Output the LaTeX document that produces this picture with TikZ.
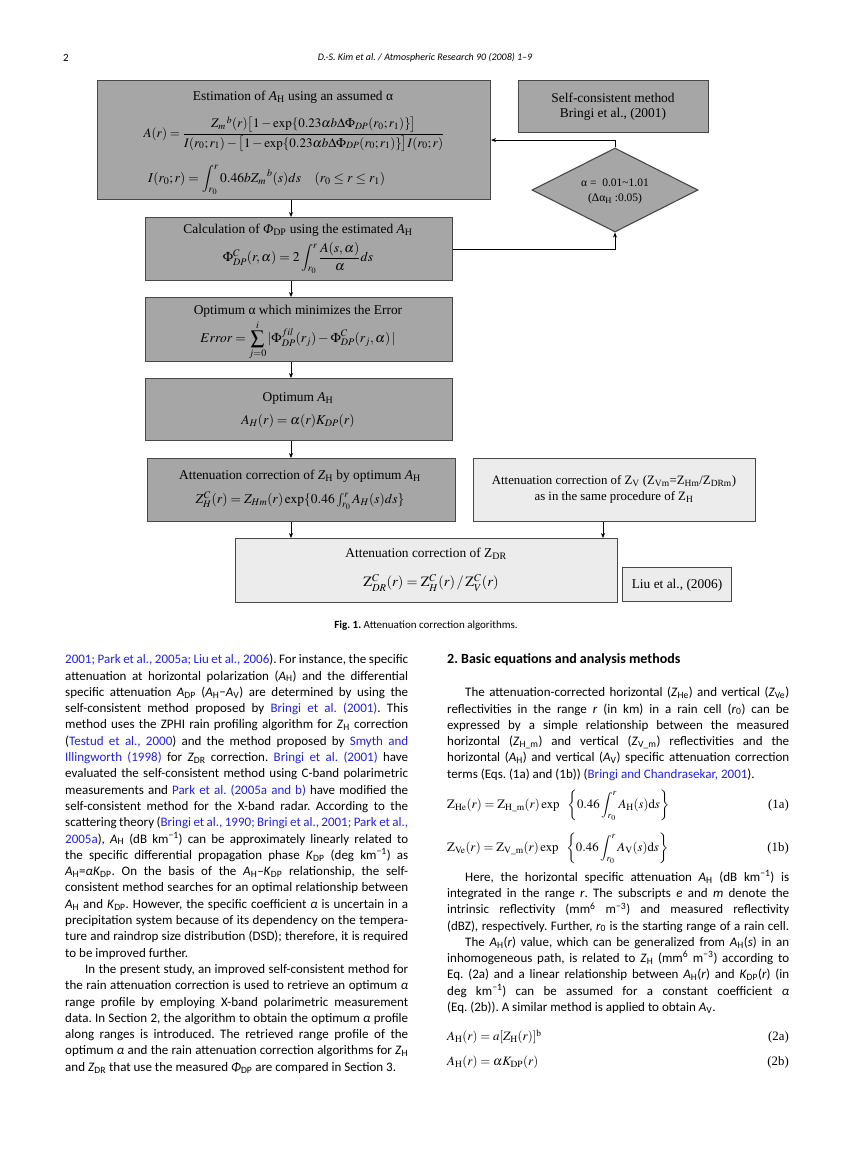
\documentclass[tikz,border=0pt]{standalone}
\usepackage{amsmath}
\usepackage{mathptmx}
\usepackage{fontspec}
\setmainfont{Liberation Serif}
\newfontfamily\bodyfont{Carlito}
\usetikzlibrary{shapes.geometric,arrows.meta,calc}
\definecolor{boxdark}{RGB}{166,166,166}
\definecolor{boxlight}{RGB}{236,236,236}
\definecolor{boxline}{RGB}{72,72,72}
\definecolor{linkblue}{RGB}{35,35,225}
\frenchspacing
\newcommand\lk[1]{\textcolor{linkblue}{#1}}
\newcommand\Jl[1]{\hbox to\hsize{#1}}
\newcommand\Ll[1]{\hbox{#1}}
\newcommand\sbs[1]{\textsubscript{#1}}
\newcommand\sps[1]{\textsuperscript{#1}}
\newcommand\AH{\textit{A}\sbs{H}}
\newcommand\AV{\textit{A}\sbs{V}}
\newcommand\ADP{\textit{A}\sbs{DP}}
\newcommand\ZH{\textit{Z}\sbs{H}}
\newcommand\ZDR{\textit{Z}\sbs{DR}}
\newcommand\KDP{\textit{K}\sbs{DP}}
\newcommand\PDP{\textit{Φ}\sbs{DP}}
\newcommand\bt{\fontsize{13.4}{15}\selectfont}
\newcommand\bm{\fontsize{13.5}{16}\selectfont}
\newcommand\bodysz{\bodyfont\fontsize{13}{16.3}\selectfont\frenchspacing}
\newcommand\eqsz{\fontsize{12.8}{15}\selectfont}
\tikzset{
  darkbox/.style={draw=boxline, fill=boxdark, line width=1.1pt, inner sep=0pt, anchor=north west},
  lightbox/.style={draw=boxline, fill=boxlight, line width=1.1pt, inner sep=0pt, anchor=north west},
  txt/.style={inner sep=0pt, font=\bt},
  arr/.style={-{Stealth[length=5pt,width=4pt]}, line width=0.7pt, black},
  col/.style={anchor=north west, inner sep=0pt},
  eqn/.style={anchor=west, inner sep=0pt, font=\eqsz},
  eqno/.style={anchor=east, inner sep=0pt, font=\eqsz}
}
\begin{document}
\begin{tikzpicture}[x=1pt,y=-1pt]
\fill[white] (0,0) rectangle (846,1154);
\useasboundingbox (0,0) rectangle (846,1154);

% running header
\node[anchor=west, inner sep=0pt] (pgnum) at (63,58) {\bodyfont\fontsize{11}{13}\selectfont 2};
\node[inner sep=0pt] (runhead) at (425,58) {\bodyfont\fontsize{10}{13}\selectfont\itshape D.-S. Kim et al. / Atmospheric Research 90 (2008) 1–9};

% ---------------- diagram ----------------
\node[darkbox, minimum width=393pt, minimum height=119pt] (est) at (97,80) {};
\node[darkbox, minimum width=190pt, minimum height=52pt] (sc) at (518,80) {};
\node[diamond, draw=boxline, fill=boxdark, line width=1.1pt, inner sep=0pt, minimum width=166pt, minimum height=84pt] (dia) at (615,190) {};
\node[darkbox, minimum width=307pt, minimum height=63pt] (calc) at (145,217) {};
\node[darkbox, minimum width=307pt, minimum height=64pt] (opta) at (145,297) {};
\node[darkbox, minimum width=307pt, minimum height=62pt] (optah) at (145,378) {};
\node[darkbox, minimum width=308pt, minimum height=63pt] (corh) at (147,458) {};
\node[lightbox, minimum width=282pt, minimum height=63pt] (corv) at (473,458) {};
\node[lightbox, minimum width=382pt, minimum height=64pt] (cordr) at (235,538) {};
\node[lightbox, minimum width=109pt, minimum height=34pt] (liu) at (622,567) {};

% texts in boxes
\node[txt] (estT) at (293,97) {Estimation of \textit{A}\sbs{H} using an assumed α};
\node[txt, font=\fontsize{13}{16}\selectfont] (estF) at (294,134) {$A(r)=\dfrac{{Z_m}^{\,b}(r)\bigl[1-\exp\{0.23\alpha b\Delta\Phi_{DP}(r_0;r_1)\}\bigr]}{I(r_0;r_1)-\bigl[1-\exp\{0.23\alpha b\Delta\Phi_{DP}(r_0;r_1)\}\bigr]I(r_0;r)}$};
\node[txt, font=\bm, anchor=west] (estI) at (148,180) {$I(r_0;r)=\displaystyle\int_{r_0}^{r}0.46b{Z_m}^{\,b}(s)ds\quad(r_0\le r\le r_1)$};

\node[txt] (scT1) at (613,98) {Self-consistent method};
\node[txt] (scT2) at (613,114) {Bringi et al., (2001)};

\node[txt, font=\fontsize{11.5}{13}\selectfont] (diaT1) at (615,183) {α =\ \ 0.01\textasciitilde 1.01};
\node[txt, font=\fontsize{11.5}{13}\selectfont] (diaT2) at (615,199) {(Δα\sbs{H} :0.05)};

\node[txt] (calcT) at (298,230) {Calculation of \PDP{} using the estimated \textit{A}\sbs{H}};
\node[txt, font=\bm] (calcF) at (298,258) {$\Phi^{C}_{DP}(r,\alpha)=2\displaystyle\int_{r_0}^{r}\frac{A(s,\alpha)}{\alpha}ds$};

\node[txt] (optaT) at (298,311) {Optimum α which minimizes the Error};
\node[txt, font=\bm] (optaF) at (298,340) {$Error=\displaystyle\sum_{j=0}^{i}|\Phi^{fil}_{DP}(r_j)-\Phi^{C}_{DP}(r_j,\alpha)\,|$};

\node[txt] (optahT) at (298,398) {Optimum \textit{A}\sbs{H}};
\node[txt, font=\bm] (optahF) at (298,421) {$A_H(r)=\alpha(r)K_{DP}(r)$};

\node[txt] (corhT) at (300,476) {Attenuation correction of \textit{Z}\sbs{H} by optimum \textit{A}\sbs{H}};
\node[txt, font=\bm] (corhF) at (300,501) {$Z^{C}_{H}(r)=Z_{Hm}(r)\exp\{0.46\int_{r_0}^{r}A_H(s)ds\}$};

\node[txt, font=\fontsize{12.8}{14}\selectfont] (corvT1) at (614,481) {Attenuation correction of Z\sbs{V} (Z\sbs{Vm}=Z\sbs{Hm}/Z\sbs{DRm})};
\node[txt, font=\fontsize{12.8}{14}\selectfont] (corvT2) at (614,497) {as in the same procedure of Z\sbs{H}};

\node[txt] (cordrT) at (426,554) {Attenuation correction of Z\sbs{DR}};
\node[txt, font=\fontsize{14.2}{16}\selectfont] (cordrF) at (431,583) {$\mathrm{Z}^{C}_{DR}(r)=\mathrm{Z}^{C}_{H}(r)\,/\,\mathrm{Z}^{C}_{V}(r)$};

\node[txt] (liuT) at (677,585) {Liu et al., (2006)};

% connectors
\coordinate (ax) at (291,0);
\coordinate (bx) at (603,0);
\draw[arr] (est.south -| ax) -- (calc.north -| ax);
\draw[arr] (calc.south -| ax) -- (opta.north -| ax);
\draw[arr] (opta.south -| ax) -- (optah.north -| ax);
\draw[arr] (optah.south -| ax) -- (corh.north -| ax);
\draw[arr] (corh.south -| ax) -- (cordr.north -| ax);
\draw[arr] (corv.south -| bx) -- (cordr.north -| bx);
\draw[arr] (calc.east) -| (dia.south);
\draw[arr] (dia.north) |- (est.east);

% caption
\node[inner sep=0pt] (cap) at (426,626) {\bodyfont\fontsize{11}{12}\selectfont\textbf{Fig. 1.} Attenuation correction algorithms.};

% ---------------- left column ----------------
\node[col] (leftcol) at (65,654) {\vbox{\hsize=343pt\bodysz
\Jl{\lk{2001; Park et al., 2005a; Liu et al., 2006}). For instance, the specific}
\Jl{attenuation at horizontal polarization (\AH) and the differential}
\Jl{specific attenuation \ADP{} (\AH−\AV) are determined by using the}
\Jl{self-consistent method proposed by \lk{Bringi et al. (2001)}. This}
\Jl{method uses the ZPHI rain profiling algorithm for \ZH{} correction}
\Jl{(\lk{Testud et al., 2000}) and the method proposed by \lk{Smyth and}}
\Jl{\lk{Illingworth (1998)} for \ZDR{} correction. \lk{Bringi et al. (2001)} have}
\Jl{evaluated the self-consistent method using C-band polarimetric}
\Jl{measurements and \lk{Park et al. (2005a and b)} have modified the}
\Jl{self-consistent method for the X-band radar. According to the}
\Jl{scattering theory (\lk{Bringi et al., 1990; Bringi et al., 2001; Park et al.,}}
\Jl{\lk{2005a}), \AH{} (dB km\sps{−1}) can be approximately linearly related to}
\Jl{the specific differential propagation phase \KDP{} (deg km\sps{−1}) as}
\Jl{\AH=\textit{α}\KDP. On the basis of the \AH–\KDP{} relationship, the self-}
\Jl{consistent method searches for an optimal relationship between}
\Jl{\AH{} and \KDP. However, the specific coefficient \textit{α} is uncertain in a}
\Jl{precipitation system because of its dependency on the tempera-}
\Jl{ture and raindrop size distribution (DSD); therefore, it is required}
\Ll{to be improved further.}
\Jl{\hspace*{20pt}In the present study, an improved self-consistent method for}
\Jl{the rain attenuation correction is used to retrieve an optimum \textit{α}}
\Jl{range profile by employing X-band polarimetric measurement}
\Jl{data. In Section 2, the algorithm to obtain the optimum \textit{α} profile}
\Jl{along ranges is introduced. The retrieved range profile of the}
\Jl{optimum \textit{α} and the rain attenuation correction algorithms for \ZH}
\Ll{and \ZDR{} that use the measured \PDP{} are compared in Section 3.}
}};

% ---------------- right column ----------------
\node[anchor=west, inner sep=0pt] (sechead) at (447,660) {\bodyfont\fontsize{14}{16}\selectfont\bfseries 2. Basic equations and analysis methods};

\node[col] (rightA) at (447,687) {\vbox{\hsize=342pt\bodysz
\Jl{\hspace*{18pt}The attenuation-corrected horizontal (\textit{Z}\sbs{He}) and vertical (\textit{Z}\sbs{Ve})}
\Jl{reflectivities in the range \textit{r} (in km) in a rain cell (\textit{r}\sbs{0}) can be}
\Jl{expressed by a simple relationship between the measured}
\Jl{horizontal (\textit{Z}\sbs{H\_m}) and vertical (\textit{Z}\sbs{V\_m}) reflectivities and the}
\Jl{horizontal (\AH) and vertical (\AV) specific attenuation correction}
\Ll{terms (Eqs. (1a) and (1b)) (\lk{Bringi and Chandrasekar, 2001}).}
}};

\node[eqn] (eq1a) at (447,805) {$\mathrm{Z}_{\mathrm{He}}(r)=\mathrm{Z}_{\mathrm{H\_m}}(r)\,\mathrm{exp}\ \ \left\{0.46\displaystyle\int_{r_0}^{r}A_{\mathrm{H}}(s)\mathrm{d}s\right\}$};
\node[eqno] (num1a) at (789,805) {(1a)};
\node[eqn] (eq1b) at (447,848) {$\mathrm{Z}_{\mathrm{Ve}}(r)=\mathrm{Z}_{\mathrm{V\_m}}(r)\,\mathrm{exp}\ \ \left\{0.46\displaystyle\int_{r_0}^{r}A_{\mathrm{V}}(s)\mathrm{d}s\right\}$};
\node[eqno] (num1b) at (789,848) {(1b)};

\node[col] (rightB) at (447,870) {\vbox{\hsize=342pt\bodysz
\Jl{\hspace*{18pt}Here, the horizontal specific attenuation \AH{} (dB km\sps{−1}) is}
\Jl{integrated in the range \textit{r}. The subscripts \textit{e} and \textit{m} denote the}
\Jl{intrinsic reflectivity (mm\sps{6} m\sps{−3}) and measured reflectivity}
\Jl{(dBZ), respectively. Further, \textit{r}\sbs{0} is the starting range of a rain cell.}
\Jl{\hspace*{18pt}The \AH(\textit{r}) value, which can be generalized from \AH(\textit{s}) in an}
\Jl{inhomogeneous path, is related to \ZH{} (mm\sps{6} m\sps{−3}) according to}
\Jl{Eq. (2a) and a linear relationship between \AH(\textit{r}) and \KDP(\textit{r}) (in}
\Jl{deg km\sps{−1}) can be assumed for a constant coefficient \textit{α}}
\Ll{(Eq. (2b)). A similar method is applied to obtain \AV.}
}};

\node[eqn] (eq2a) at (447,1037) {$A_{\mathrm{H}}(r)=a[Z_{\mathrm{H}}(r)]^{\mathrm{b}}$};
\node[eqno] (num2a) at (789,1037) {(2a)};
\node[eqn] (eq2b) at (447,1062) {$A_{\mathrm{H}}(r)=\alpha K_{\mathrm{DP}}(r)$};
\node[eqno] (num2b) at (789,1062) {(2b)};
\end{tikzpicture}
\end{document}
